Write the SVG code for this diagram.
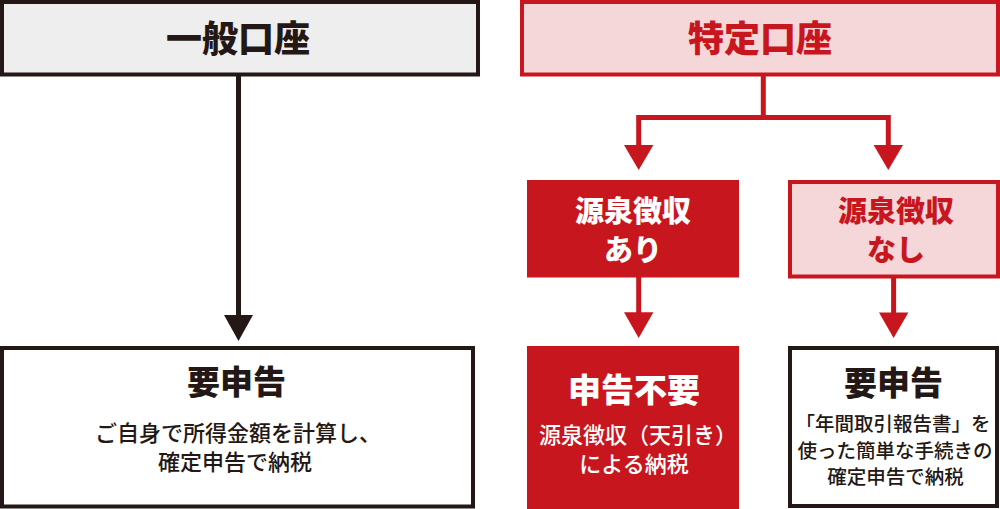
<svg xmlns="http://www.w3.org/2000/svg" width="1000" height="509" viewBox="0 0 1000 509">
  <style>
    text { font-family: "Noto Sans CJK JP", "Noto Sans", sans-serif; text-anchor: middle; }
    .title { font-size: 36px; font-weight: 900; }
    .mid { font-size: 29px; font-weight: 900; }
    .big { font-size: 33px; font-weight: 900; }
    .sub { font-size: 22px; font-weight: 500; }
    .small { font-size: 19.5px; font-weight: 500; }
    .dark { fill: #231815; }
    .red { fill: #c8161e; }
    .white { fill: #ffffff; }
    .line-dark { stroke: #231815; stroke-width: 5; fill: none; }
    .line-red { stroke: #c8161e; stroke-width: 5; fill: none; }
    .head-dark { fill: #231815; }
    .head-red { fill: #c8161e; }
  </style>
  <rect width="1000" height="509" fill="#ffffff"/>

  <g id="connectors">
    <line class="line-dark" x1="238.5" y1="76" x2="238.5" y2="317"/>
    <polygon class="head-dark" points="224,315 253,315 238.5,341"/>

    <polyline class="line-red" points="763.3,76 763.3,117.5"/>
    <polyline class="line-red" points="638.7,147 638.7,117.5 888.3,117.5 888.3,147"/>
    <polygon class="head-red" points="624,145 653.4,145 638.7,170"/>
    <polygon class="head-red" points="873.6,145 903,145 888.3,170"/>

    <line class="line-red" x1="638.7" y1="277" x2="638.7" y2="314"/>
    <polygon class="head-red" points="624,312.3 653.4,312.3 638.7,338"/>
    <line class="line-red" x1="893.6" y1="278" x2="893.6" y2="314"/>
    <polygon class="head-red" points="879,312.5 908.4,312.5 893.6,338"/>
  </g>

  <g id="general-account">
    <rect x="2" y="2" width="476" height="72.5" fill="#eeeeee" stroke="#231815" stroke-width="4"/>
    <text class="title dark" x="238" y="51.5">一般口座</text>
  </g>

  <g id="specific-account">
    <rect x="522" y="2" width="476" height="72.5" fill="#f5d7da" stroke="#c8161e" stroke-width="4"/>
    <text class="title red" x="760" y="51.5">特定口座</text>
  </g>

  <g id="withholding-yes">
    <rect x="527" y="180" width="212" height="97.5" fill="#c8161e"/>
    <text class="mid white" x="633" y="222">源泉徴収</text>
    <text class="mid white" x="633" y="261">あり</text>
  </g>

  <g id="withholding-no">
    <rect x="790" y="182" width="208" height="94.5" fill="#f5d7da" stroke="#c8161e" stroke-width="4"/>
    <text class="mid red" x="896" y="222">源泉徴収</text>
    <text class="mid red" x="896" y="261">なし</text>
  </g>

  <g id="general-result">
    <rect x="2" y="348" width="471" height="158.5" fill="#ffffff" stroke="#231815" stroke-width="4"/>
    <text class="big dark" x="236.5" y="394">要申告</text>
    <text class="sub dark" x="238" y="441">ご自身で所得金額を計算し、</text>
    <text class="sub dark" x="235" y="470">確定申告で納税</text>
  </g>

  <g id="no-filing">
    <rect x="527" y="346" width="212" height="163" fill="#c8161e"/>
    <text class="big white" x="634" y="402">申告不要</text>
    <text class="sub white" x="638" y="443">源泉徴収（天引き）</text>
    <text class="sub white" x="634" y="472">による納税</text>
  </g>

  <g id="specific-result">
    <rect x="790" y="348" width="207" height="158" fill="#ffffff" stroke="#231815" stroke-width="4"/>
    <text class="big dark" x="893.5" y="395">要申告</text>
    <text class="small dark" x="893" y="431">「年間取引報告書」を</text>
    <text class="small dark" x="895" y="457.5">使った簡単な手続きの</text>
    <text class="small dark" x="895.5" y="484">確定申告で納税</text>
  </g>
</svg>
